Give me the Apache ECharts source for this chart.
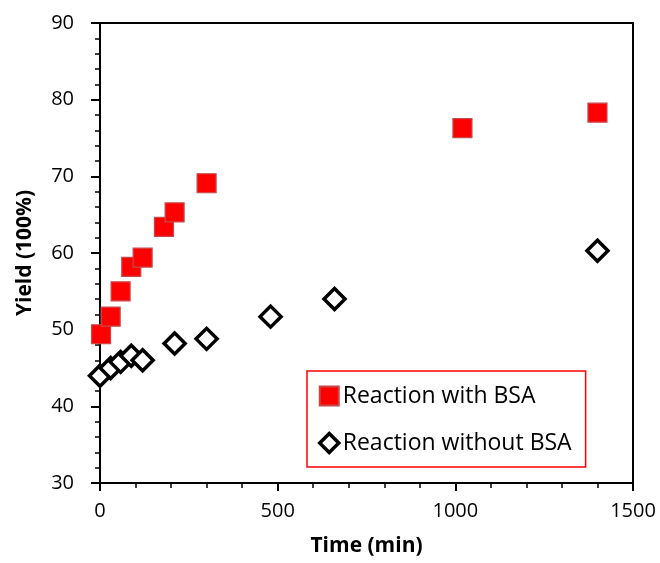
<!DOCTYPE html>
<html>
<head>
<meta charset="utf-8">
<script src="https://cdn.jsdelivr.net/npm/echarts@6/dist/echarts.min.js"></script>
<style>
  html, body { margin: 0; padding: 0; background: #fff; }
  #chart { width: 660px; height: 563px; }
</style>
</head>
<body>
<div id="chart"></div>
<script>
// time (min) and yield (%)
const withBsaTime = [3, 30, 58, 88, 120, 180, 210, 300, 1020, 1400]
const withBsaYield = [49.4, 51.7, 55.0, 58.2, 59.4, 63.4, 65.3, 69.1, 76.3, 78.3]
const withoutBsaTime = [0, 30, 58, 88, 120, 210, 300, 480, 660, 1400]
const withoutBsaYield = [44.0, 45.0, 45.8, 46.6, 46.0, 48.2, 48.8, 51.7, 54.0, 60.3]

const font = 'Open Sans'

const chart = echarts.init(document.getElementById('chart'))

const option = {
  backgroundColor: '#fff',
  animation: false,
  textStyle: { fontFamily: font },
  grid: {
    left: 100,
    right: 27,
    top: 23,
    bottom: 80,
    show: true,
    borderColor: '#000',
    borderWidth: 2,
  },
  legend: {
    orient: 'vertical',
    left: 307,
    top: 371,
    padding: [13, 14, 12, 11],
    itemGap: 23,
    itemWidth: 19,
    itemHeight: 19,
    borderColor: '#ff0000',
    borderWidth: 1.5,
    textStyle: { fontFamily: font, fontSize: 23, lineHeight: 24, color: '#000', padding: [0, 0, 0, -1] },
    data: [
      { name: 'Reaction with BSA' },
      { name: 'Reaction without BSA', itemStyle: { borderWidth: 3.5 } },
    ],
  },
  xAxis: {
    type: 'value',
    min: 0,
    max: 1500,
    interval: 500,
    name: 'Time (min)',
    nameLocation: 'middle',
    nameGap: 53,
    nameTextStyle: { fontFamily: font, fontSize: 21, fontWeight: 'bold', color: '#000' },
    axisLine: { show: true, onZero: false, lineStyle: { color: '#000', width: 2 } },
    axisTick: { show: true, length: 8, lineStyle: { color: '#000', width: 2 } },
    minorTick: { show: true, splitNumber: 5, length: 5, lineStyle: { color: '#000', width: 1.5 } },
    axisLabel: { fontFamily: font, fontSize: 20, color: '#000', margin: 18, formatter: (v) => String(v) },
    splitLine: { show: false },
  },
  yAxis: {
    type: 'value',
    min: 30,
    max: 90,
    interval: 10,
    name: 'Yield (100%)',
    nameLocation: 'middle',
    nameGap: 64,
    nameTextStyle: { fontFamily: font, fontSize: 21, fontWeight: 'bold', color: '#000' },
    axisLine: { show: true, onZero: false, lineStyle: { color: '#000', width: 2 } },
    axisTick: { show: true, length: 9, lineStyle: { color: '#000', width: 2 } },
    minorTick: { show: true, splitNumber: 5, length: 5, lineStyle: { color: '#000', width: 1.5 } },
    axisLabel: { fontFamily: font, fontSize: 20, color: '#000', margin: 26, formatter: (v) => String(v) },
    splitLine: { show: false },
  },
  series: [
    {
      name: 'Reaction with BSA',
      type: 'scatter',
      symbol: 'rect',
      symbolSize: 19,
      itemStyle: { color: '#ff0000', borderColor: '#c8484a', borderWidth: 1.2, opacity: 1 },
      data: withBsaTime.map((t, i) => [t, withBsaYield[i]]),
      z: 3,
    },
    {
      name: 'Reaction without BSA',
      type: 'scatter',
      symbol: 'diamond',
      symbolSize: [21, 21],
      itemStyle: { color: '#fff', borderColor: '#000', borderWidth: 3.5, opacity: 1 },
      data: withoutBsaTime.map((t, i) => [t, withoutBsaYield[i]]),
      z: 2,
    },
  ],
}

chart.setOption(option)
</script>
</body>
</html>
